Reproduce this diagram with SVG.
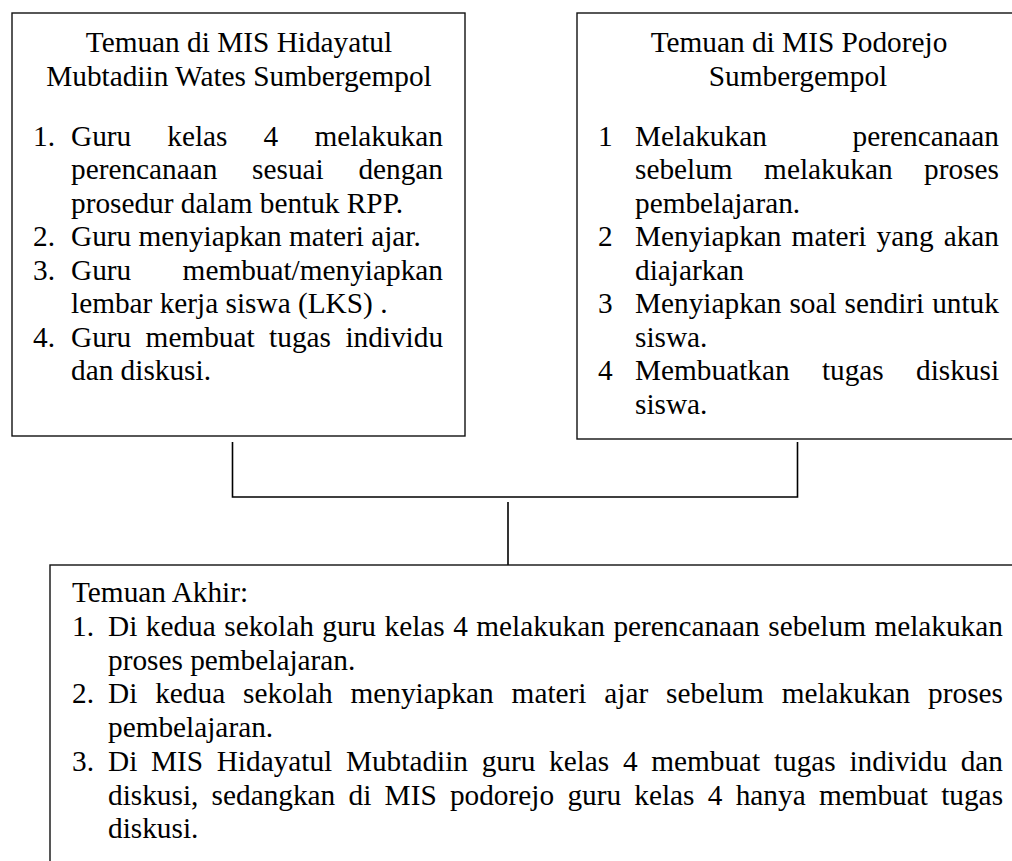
<svg xmlns="http://www.w3.org/2000/svg" width="1012" height="861" viewBox="0 0 1012 861">
<style>
text{font-family:"Liberation Serif","Times New Roman",serif;font-size:29.3px;fill:#000}
.box{fill:#fff;stroke:#111;stroke-width:1.4}
.conn{fill:none;stroke:#000;stroke-width:1.6}
.c{text-anchor:middle}
</style>
<rect width="1012" height="861" fill="#fff"/>
<g id="left-box">
<rect class="box" x="12" y="13" width="453" height="423"/>
<text class="c" x="239" y="52">Temuan di MIS Hidayatul</text>
<text class="c" x="239" y="85.5">Mubtadiin Wates Sumbergempol</text>
<text y="145.5"><tspan x="33">1.</tspan><tspan x="71">Guru</tspan><tspan x="167.3">kelas</tspan><tspan x="263.6">4</tspan><tspan x="314.4">melakukan</tspan></text>
<text y="179"><tspan x="71">perencanaan</tspan><tspan x="252.1">sesuai</tspan><tspan x="358.4">dengan</tspan></text>
<text y="212.5"><tspan x="71">prosedur dalam bentuk RPP.</tspan></text>
<text y="246"><tspan x="33">2.</tspan><tspan x="71">Guru menyiapkan materi ajar.</tspan></text>
<text y="279.5"><tspan x="33">3.</tspan><tspan x="71">Guru</tspan><tspan x="182.6">membuat/menyiapkan</tspan></text>
<text y="313"><tspan x="71">lembar kerja siswa (LKS) .</tspan></text>
<text y="346.5"><tspan x="33">4.</tspan><tspan x="71">Guru</tspan><tspan x="145.6">membuat</tspan><tspan x="269.1">tugas</tspan><tspan x="345.4">individu</tspan></text>
<text y="380"><tspan x="71">dan diskusi.</tspan></text>
</g>
<g id="right-box">
<rect class="box" x="577" y="13" width="450" height="426"/>
<text class="c" x="799" y="52">Temuan di MIS Podorejo</text>
<text class="c" x="798" y="85.5">Sumbergempol</text>
<text y="145.5"><tspan x="598">1</tspan><tspan x="635">Melakukan</tspan><tspan x="852.6">perencanaan</tspan></text>
<text y="179"><tspan x="635">sebelum</tspan><tspan x="764.1">melakukan</tspan><tspan x="924.1">proses</tspan></text>
<text y="212.5"><tspan x="635">pembelajaran.</tspan></text>
<text y="246"><tspan x="598">2</tspan><tspan x="635">Menyiapkan</tspan><tspan x="791.6">materi</tspan><tspan x="876.6">yang</tspan><tspan x="943.7">akan</tspan></text>
<text y="279.5"><tspan x="635">diajarkan</tspan></text>
<text y="313"><tspan x="598">3</tspan><tspan x="635">Menyiapkan</tspan><tspan x="789.4">soal</tspan><tspan x="844.5">sendiri</tspan><tspan x="932.2">untuk</tspan></text>
<text y="346.5"><tspan x="635">siswa.</tspan></text>
<text y="380"><tspan x="598">4</tspan><tspan x="635">Membuatkan</tspan><tspan x="821.9">tugas</tspan><tspan x="916">diskusi</tspan></text>
<text y="413.5"><tspan x="635">siswa.</tspan></text>
</g>
<g id="connectors">
<path class="conn" d="M232.5 442 V497 H797.5 V442"/>
<path class="conn" d="M508 502 V565"/>
</g>
<g id="final-box">
<rect class="box" x="50" y="565" width="980" height="310"/>
<text x="72" y="602">Temuan Akhir:</text>
<text y="636"><tspan x="72">1.</tspan><tspan x="108">Di</tspan><tspan x="145.8">kedua</tspan><tspan x="224.3">sekolah</tspan><tspan x="322.3">guru</tspan><tspan x="384.5">kelas</tspan><tspan x="453.2">4</tspan><tspan x="476.3">melakukan</tspan><tspan x="613.4">perencanaan</tspan><tspan x="768.3">sebelum</tspan><tspan x="874.4">melakukan</tspan></text>
<text y="669.5"><tspan x="108">proses pembelajaran.</tspan></text>
<text y="703"><tspan x="72">2.</tspan><tspan x="108">Di</tspan><tspan x="155.2">kedua</tspan><tspan x="243.1">sekolah</tspan><tspan x="350.5">menyiapkan</tspan><tspan x="511.6">materi</tspan><tspan x="604.3">ajar</tspan><tspan x="666.1">sebelum</tspan><tspan x="781.7">melakukan</tspan><tspan x="928.1">proses</tspan></text>
<text y="737"><tspan x="108">pembelajaran.</tspan></text>
<text y="771"><tspan x="72">3.</tspan><tspan x="108">Di</tspan><tspan x="151">MIS</tspan><tspan x="216.7">Hidayatul</tspan><tspan x="345.9">Mubtadiin</tspan><tspan x="481.7">guru</tspan><tspan x="549">kelas</tspan><tspan x="622.9">4</tspan><tspan x="651.2">membuat</tspan><tspan x="773.9">tugas</tspan><tspan x="849.4">individu</tspan><tspan x="960.7">dan</tspan></text>
<text y="804.5"><tspan x="108">diskusi,</tspan><tspan x="211.6">sedangkan</tspan><tspan x="348.5">di</tspan><tspan x="384.6">MIS</tspan><tspan x="449.9">podorejo</tspan><tspan x="567.4">guru</tspan><tspan x="634.3">kelas</tspan><tspan x="707.8">4</tspan><tspan x="735.7">hanya</tspan><tspan x="818.9">membuat</tspan><tspan x="941.2">tugas</tspan></text>
<text y="838"><tspan x="108">diskusi.</tspan></text>
</g>
</svg>
